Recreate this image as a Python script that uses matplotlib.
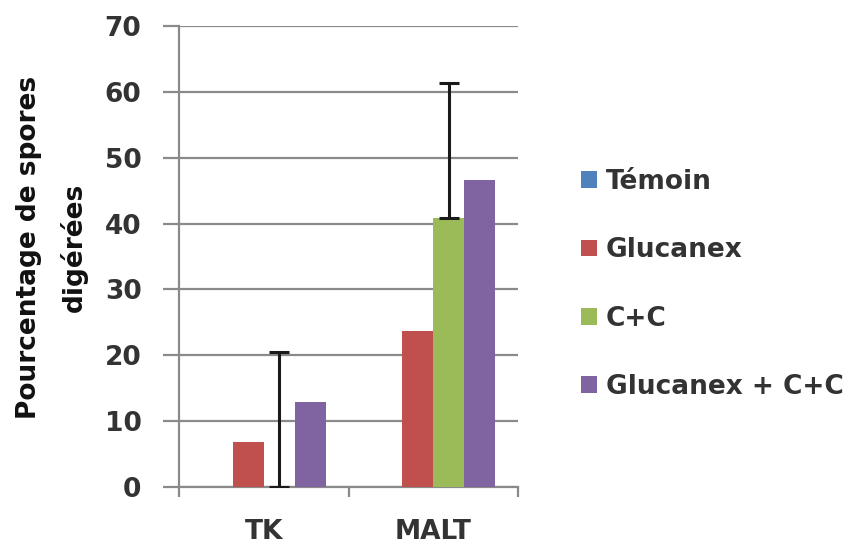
import matplotlib
matplotlib.use("Agg")
import matplotlib.pyplot as plt
import numpy as np

categories = ["TK", "MALT"]
series_names = ["Témoin", "Glucanex", "C+C", "Glucanex + C+C"]
temoin = [0.0, 0.0]
glucanex = [6.8, 23.7]
cc = [0.0, 40.9]
glucanex_cc = [12.9, 46.6]
cc_err_upper = [20.5, 20.4]

colors = ["#4F81BD", "#C0504D", "#9BBB59", "#8064A2"]
values = [temoin, glucanex, cc, glucanex_cc]

plt.rcParams["font.family"] = ["DejaVu Sans"]
plt.rcParams["font.weight"] = "bold"
txt_col = "#333333"
fs = 19

fig = plt.figure(figsize=(8.49, 5.48), dpi=100)
ax = fig.add_axes([0.2108, 0.1113, 0.3994, 0.8413])

x = np.arange(len(categories))
w = 0.183
handles = []
for i, (name, vals, col) in enumerate(zip(series_names, values, colors)):
    pos = x + (i - 1.5) * w
    if name == "C+C":
        b = ax.bar(pos, vals, w, color=col, label=name, zorder=3,
                   yerr=[[0, 0], cc_err_upper],
                   error_kw=dict(ecolor="#1a1a1a", elinewidth=2.2, capsize=7,
                                 capthick=2.2, zorder=4))
    else:
        b = ax.bar(pos, vals, w, color=col, label=name, zorder=3)
    handles.append(b)

ax.set_xlim(-0.5, 1.5)
ax.set_ylim(0, 70)
ax.set_yticks(np.arange(0, 71, 10))
ax.yaxis.grid(True, color="#8a8a8a", linewidth=1.6, zorder=0)
ax.set_axisbelow(True)

for s in ["top", "right"]:
    ax.spines[s].set_visible(False)
for s in ["left", "bottom"]:
    ax.spines[s].set_color("#8a8a8a")
    ax.spines[s].set_linewidth(1.6)

ax.set_xticks(x)
ax.set_xticklabels(categories)
ax.set_xticks([-0.5, 0.5, 1.5], minor=True)
ax.tick_params(axis="x", which="major", length=0, pad=23, labelsize=fs,
               labelcolor=txt_col)
ax.tick_params(axis="x", which="minor", length=7, width=1.6, color="#8a8a8a",
               direction="out")
ax.tick_params(axis="y", length=11.5, width=1.6, color="#8a8a8a", pad=15.5,
               labelsize=fs, labelcolor=txt_col)

ax.set_ylabel("Pourcentage de spores\ndigérées", fontsize=fs, fontweight="bold",
              color="#111111", linespacing=1.8)
ax.yaxis.set_label_coords(-0.268, 0.52)

leg = fig.legend(handles=handles, labels=series_names, loc="center left",
                 bbox_to_anchor=(0.684, 0.481), frameon=False, fontsize=fs,
                 borderpad=0, borderaxespad=0,
                 handlelength=0.6, handleheight=0.6, handletextpad=0.35,
                 labelspacing=1.6, labelcolor=txt_col)

fig.savefig("out.png", dpi=100)
